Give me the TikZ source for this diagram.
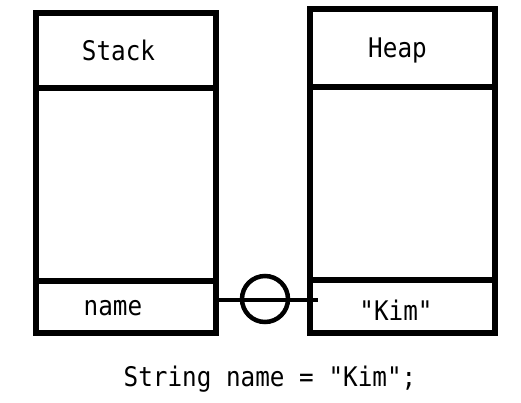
\documentclass[tikz,border=0pt]{standalone}
\usepackage{fontspec}
\setmonofont{DejaVu Sans Mono}
\newcommand{\mytxt}[1]{\scalebox{0.9}[1]{#1}}
\begin{document}
\begin{tikzpicture}[x=1pt,y=-1pt,
  cell/.style={draw=black,line width=6pt,inner sep=0pt,outer sep=0pt,rectangle},
  lbl/.style={anchor=base,inner sep=0pt,font=\ttfamily\fontsize{27}{32}\selectfont},
  wire/.style={draw=black,line width=4.5pt},
  ring/.style={draw=black,line width=4.5pt,circle,minimum size=46pt,inner sep=0pt}]
\useasboundingbox (0,0) rectangle (521,402);
% Stack column
\node[cell,minimum width=180pt,minimum height=75pt] (sh) at (126,50.5) {};
\node[cell,minimum width=180pt,minimum height=193pt] (sb) at (126,184.5) {};
\node[cell,minimum width=180pt,minimum height=52pt] (sn) at (126,307) {};
% Heap column
\node[cell,minimum width=185pt,minimum height=78pt] (hh) at (402.5,48) {};
\node[cell,minimum width=185pt,minimum height=193pt] (hb) at (402.5,183.5) {};
\node[cell,minimum width=185pt,minimum height=53pt] (hk) at (402.5,306.5) {};
% labels
\node[lbl] (tstack) at (118.5,60) {\mytxt{Stack}};
\node[lbl] (theap) at (397.5,57) {\mytxt{Heap}};
\node[lbl] (tname) at (113,315) {\mytxt{name}};
\node[lbl] (tkim) at (396,320) {\mytxt{"Kim"}};
\node[lbl] (tcode) at (270,386.5) {\mytxt{String name = "Kim";}};
% reference
\coordinate (ref) at (318,300);
\draw[wire] (sn.east |- ref) -- (ref);
\node[ring] (rc) at (265,299) {};
\end{tikzpicture}
\end{document}
